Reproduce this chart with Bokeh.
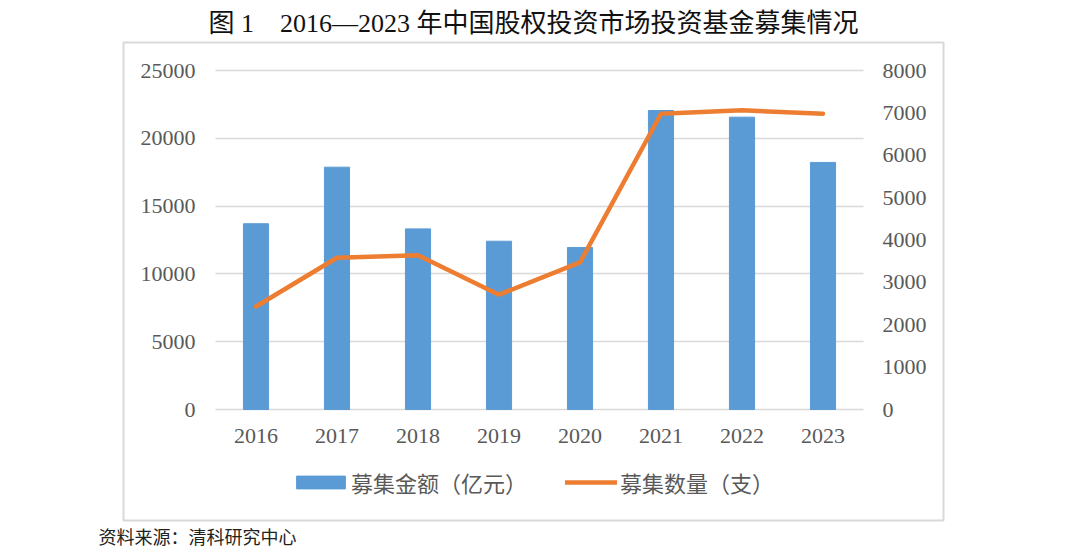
from bokeh.plotting import figure
from bokeh.models import (Range1d, LinearAxis, FixedTicker, Legend,
                          LegendItem, Title)
from bokeh.embed import file_html
from bokeh.resources import INLINE

# ---- data ----
years = [2016, 2017, 2018, 2019, 2020, 2021, 2022, 2023]
amount = [13700, 17870, 13320, 12410, 11950, 22050, 21560, 18220]   # 亿元
count = [2430, 3580, 3640, 2710, 3470, 6980, 7060, 6980]            # 支
amount_ticks = [0, 5000, 10000, 15000, 20000, 25000]
count_ticks = [0, 1000, 2000, 3000, 4000, 5000, 6000, 7000, 8000]
title_text = "图 1　2016—2023 年中国股权投资市场投资基金募集情况"
amount_label = "募集金额（亿元）"
count_label = "募集数量（支）"
source_text = "资料来源：清科研究中心"

BAR = "#5B9BD5"
LINE = "#ED7D31"
GRID = "#D9D9D9"
TXT = "#595959"
FONT = "Liberation Serif, Noto Sans CJK SC"
CJK = "Noto Sans CJK SC"

# frame = the grey box; data area inset inside it
A_MAX, C_MAX = 25000, 8000
PX_H = 339.0                 # height of data area in px
pad_top, pad_bot = 28, 111   # px between data area and box
a_per = A_MAX / PX_H
c_per = C_MAX / PX_H

p = figure(width=1064, height=556, output_backend="svg", toolbar_location=None,
           x_range=Range1d(years[0] - 0.5 - 92 / 81, years[-1] + 0.5 + 80 / 81),
           y_range=Range1d(-pad_bot * a_per, A_MAX + pad_top * a_per),
           min_border_left=123, min_border_right=121,
           min_border_top=42, min_border_bottom=36)
p.outline_line_color = GRID
p.outline_line_width = 2
p.xgrid.visible = False
p.ygrid.grid_line_color = GRID
p.ygrid.grid_line_width = 1.3
p.ygrid.cross_bounds = (years[0] - 0.5, years[-1] + 0.5)

p.yaxis.ticker = FixedTicker(ticks=amount_ticks)
p.xaxis.ticker = FixedTicker(ticks=years)
p.extra_y_ranges = {"cnt": Range1d(-pad_bot * c_per, C_MAX + pad_top * c_per)}
rax = LinearAxis(y_range_name="cnt", ticker=FixedTicker(ticks=count_ticks))
p.add_layout(rax, "right")

for ax in [p.xaxis[0], p.yaxis[0], rax]:
    ax.axis_line_color = None
    ax.major_tick_line_color = None
    ax.minor_tick_line_color = None
    ax.major_tick_in = 0
    ax.major_tick_out = 0
    ax.major_label_text_font = FONT
    ax.major_label_text_font_size = "22px"
    ax.major_label_text_color = TXT
p.yaxis.major_label_standoff = -72
rax.major_label_standoff = -61
p.xaxis.major_label_standoff = -92

bars = p.vbar(x=years, top=amount, width=0.31, fill_color=BAR, line_color=BAR)
ln = p.line(x=years, y=count, y_range_name="cnt", line_width=4.5, line_color=LINE,
            line_cap="round", line_join="round")

leg1 = Legend(items=[LegendItem(label=amount_label, renderers=[bars])],
              location=(167, 22), glyph_width=61, glyph_height=16,
              label_standoff=0, padding=0, margin=0, border_line_color=None,
              background_fill_alpha=0, label_text_font=CJK,
              label_text_font_size="22px", label_text_color=TXT)
leg2 = Legend(items=[LegendItem(label=count_label, renderers=[ln])],
              location=(442, 22), glyph_width=52, glyph_height=16,
              label_standoff=3, padding=0, margin=0, border_line_color=None,
              background_fill_alpha=0, label_text_font=CJK,
              label_text_font_size="22px", label_text_color=TXT)
p.add_layout(leg1)
p.add_layout(leg2)

p.add_layout(Title(text=title_text, align="center", text_font=FONT,
                   text_font_size="26px", text_font_style="normal",
                   text_color="#111111", standoff=6, vertical_align="top"), "above")
p.add_layout(Title(text=source_text, align="left", offset=-25, text_font=CJK,
                   text_font_size="18px", text_font_style="normal",
                   text_color="#222222", standoff=4, vertical_align="top"), "below")

open("out.html", "w").write(file_html(p, INLINE))
